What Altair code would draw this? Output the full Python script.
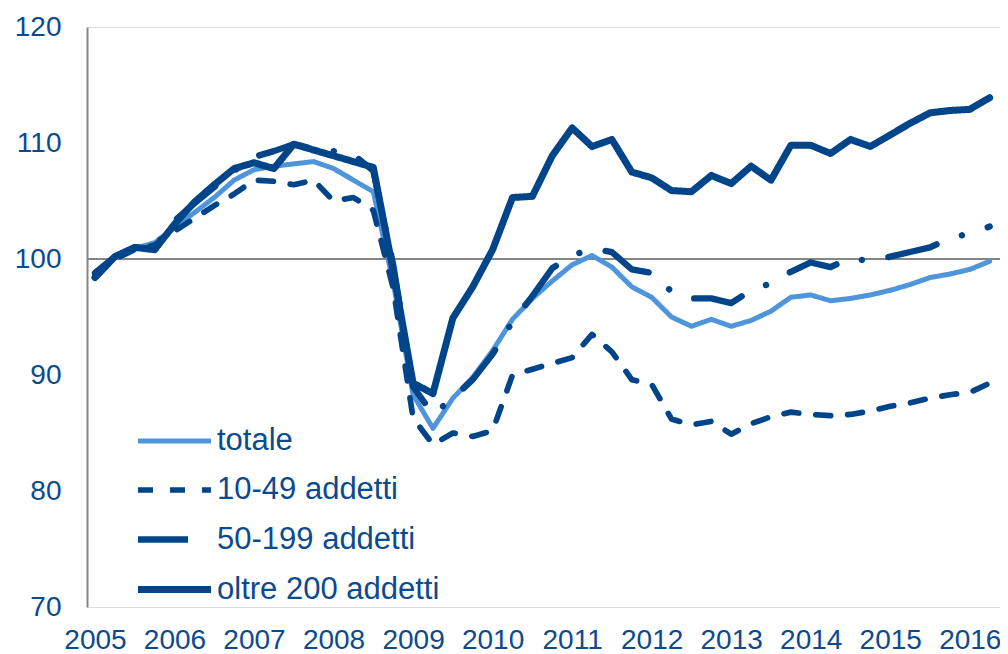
import altair as alt
import pandas as pd

# ---- data (quarterly index numbers, 2005Q1 .. 2016Q2) ----
years = list(range(2005, 2017))
series_names = ["totale", "10-49 addetti", "50-199 addetti", "oltre 200 addetti"]

totale = [98.8, 100.1, 100.9, 101.4, 102.7, 104.0, 105.3, 106.8,
          107.7, 108.0, 108.2, 108.4, 107.8, 106.8, 105.8, 98.0,
          88.3, 85.4, 88.0, 89.8, 92.1, 94.8, 96.6, 98.1,
          99.5, 100.3, 99.3, 97.6, 96.7, 95.0, 94.2, 94.8,
          94.2, 94.7, 95.5, 96.7, 96.9, 96.4, 96.6, 96.9,
          97.3, 97.8, 98.4, 98.7, 99.1, 99.8]

addetti_10_49 = [98.5, 100.0, 100.8, 101.2, 102.4, 103.5, 104.6, 105.6,
                 106.8, 106.7, 106.4, 106.8, 105.0, 105.3, 104.2, 97.5,
                 86.3, 84.0, 85.0, 84.7, 85.2, 90.0, 90.5, 91.0,
                 91.5, 93.5, 92.0, 89.6, 89.2, 86.2, 85.7, 86.0,
                 84.9, 85.8, 86.4, 86.8, 86.6, 86.5, 86.6, 86.9,
                 87.3, 87.6, 88.0, 88.3, 88.5, 89.3]

addetti_50_199 = [98.8, 100.2, 101.0, 101.0, 103.3, 104.8, 106.2, 107.6,
                  108.8, 109.3, 109.9, 109.5, 109.3, 109.0, 107.6, 99.5,
                  89.0, 86.6, 88.0, 89.6, 91.8, 94.6, 96.8, 99.2,
                  100.3, 100.9, 100.6, 99.1, 98.8, 97.2, 96.6, 96.6,
                  96.2, 97.3, 97.9, 98.9, 99.7, 99.3, 100.1, 99.8,
                  100.2, 100.6, 101.0, 101.8, 102.2, 102.8]

oltre_200 = [98.4, 100.2, 101.0, 100.8, 103.0, 104.9, 106.4, 107.8,
             108.3, 107.8, 109.9, 109.4, 108.9, 108.4, 107.9, 99.0,
             89.3, 88.4, 94.9, 97.6, 100.8, 105.3, 105.4, 108.9,
             111.3, 109.7, 110.3, 107.5, 107.0, 105.9, 105.8, 107.2,
             106.5, 108.0, 106.8, 109.8, 109.8, 109.1, 110.3, 109.7,
             110.7, 111.7, 112.6, 112.8, 112.9, 113.9]

quarter_offsets = [0.0, 0.25, 0.5, 0.75]
periods = [y + q for y in years for q in quarter_offsets][:len(totale)]

values = {
    "totale": totale,
    "10-49 addetti": addetti_10_49,
    "50-199 addetti": addetti_50_199,
    "oltre 200 addetti": oltre_200,
}
rows = []
for name in series_names:
    for t, v in zip(periods, values[name]):
        rows.append({"serie": name, "t": t, "valore": v})
df = pd.DataFrame(rows)

DARK = "#00448A"
LIGHT = "#4F95DC"
TEXT = "#0B4A8F"
FONT = "Liberation Sans"

legend = alt.Legend(
    title=None, orient="none", legendX=65.5, legendY=393,
    symbolType="M-2,0H2", symbolSize=1332, symbolOffset=0,
    labelFontSize=31, labelFont=FONT, labelColor=TEXT, labelOffset=20.5,
    rowPadding=12.5, padding=0, labelLimit=400,
)

color = alt.Color("serie:N", scale=alt.Scale(domain=series_names, range=[LIGHT, DARK, DARK, DARK]), legend=legend)
dash = alt.StrokeDash("serie:N", scale=alt.Scale(domain=series_names,
                      range=[[1, 0], [15, 17], [50, 27, 0.1, 27], [1, 0]]), legend=legend)
width = alt.StrokeWidth("serie:N", scale=alt.Scale(domain=series_names, range=[5, 7, 7, 7]), legend=legend)

x = alt.X("t:Q", title=None,
          scale=alt.Scale(domain=[2004.9, 2016.38], nice=False, zero=False),
          axis=alt.Axis(values=years, format="d", domain=False, ticks=False, tickSize=0, grid=False,
                        labelFontSize=28, labelFont=FONT, labelColor=TEXT, labelPadding=19,
                        labelFlush=False))
y = alt.Y("valore:Q", title=None,
          scale=alt.Scale(domain=[70, 120], nice=False, zero=False),
          axis=alt.Axis(values=[70, 80, 90, 100, 110, 120], domain=True, domainColor="#858585",
                        domainWidth=2, ticks=False, tickSize=0, grid=False,
                        labelFontSize=28, labelFont=FONT, labelColor=TEXT, labelPadding=26))

ref = alt.Chart(pd.DataFrame({"v": [100]})).mark_rule(color="#858585", strokeWidth=2).encode(
    y=alt.Y("v:Q", scale=alt.Scale(domain=[70, 120], nice=False, zero=False))
)

layers = [ref]
for name in series_names:
    layers.append(
        alt.Chart(df).transform_filter(alt.datum.serie == name)
        .mark_line(strokeCap="round", strokeJoin="round")
        .encode(x=x, y=y, color=color, strokeDash=dash, strokeWidth=width)
    )

chart = alt.layer(*layers).properties(
    width=913, height=580,
    autosize=alt.AutoSizeParams(type="none"),
    padding={"left": 79, "top": 19, "right": 0, "bottom": 47},
).configure_view(stroke=None).configure(background="white")

chart.save("out.html", embed_options={"renderer": "svg", "actions": False})
